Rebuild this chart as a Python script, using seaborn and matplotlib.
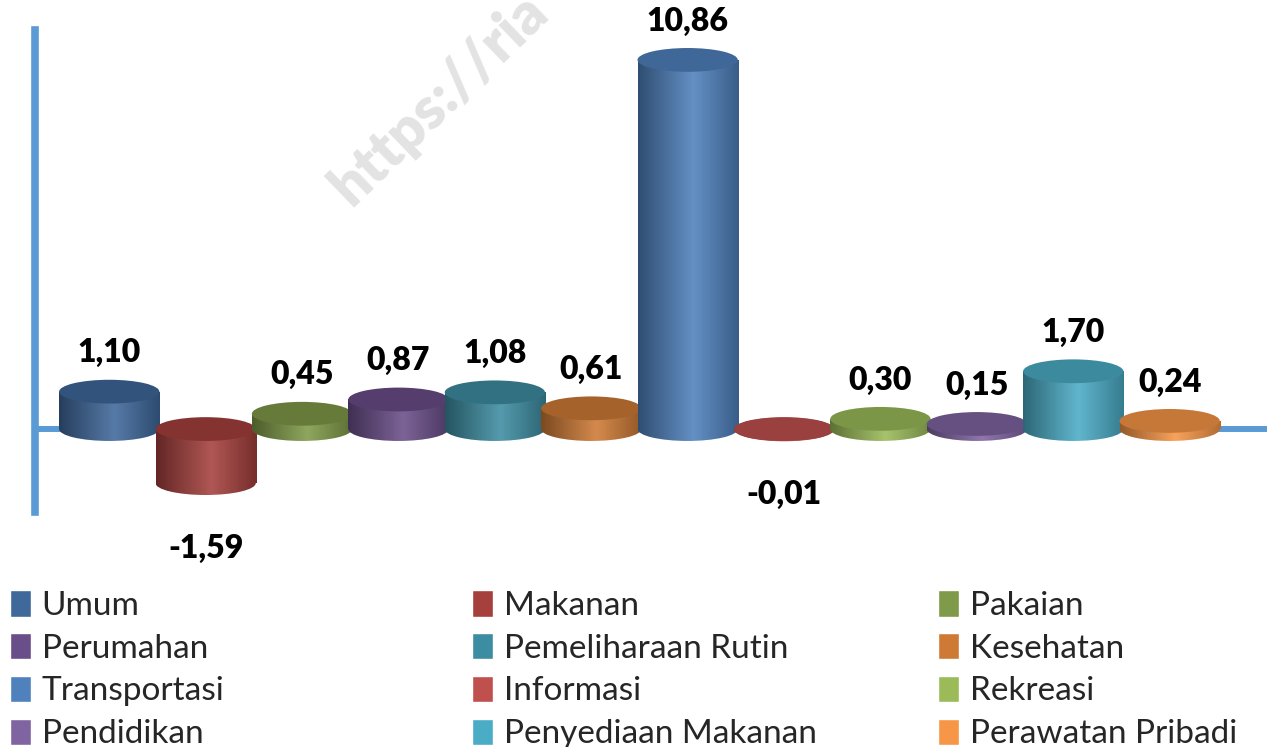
import numpy as np
import matplotlib
matplotlib.use('Agg')
import matplotlib.pyplot as plt
import matplotlib.colors as mcolors
from matplotlib.patches import Ellipse, Patch
import seaborn as sns

# Data
categories = ['Umum', 'Makanan', 'Pakaian', 'Perumahan', 'Pemeliharaan Rutin', 'Kesehatan',
              'Transportasi', 'Informasi', 'Rekreasi', 'Pendidikan', 'Penyediaan Makanan',
              'Perawatan Pribadi']
values = [1.10, -1.59, 0.45, 0.87, 1.08, 0.61, 10.86, -0.01, 0.30, 0.15, 1.70, 0.24]
colors = ['#3F689B', '#A5403D', '#7F9A48', '#6A4E89', '#3D8DA2', '#CE7A35',
          '#4F81BD', '#C0504D', '#9BBB59', '#8064A2', '#4BACC6', '#F79646']

sns.set_style('white')
plt.rcParams['font.family'] = ['Lato', 'DejaVu Sans']

W, H = 1267, 747
fig = plt.figure(figsize=(W / 100, H / 100), dpi=100)
ax = fig.add_axes([35 / W, (H - 512) / H, 1 - 35 / W, (512 - 30) / H])

sns.barplot(x=categories, y=values, hue=categories, palette=colors, legend=False,
            width=1.04, ax=ax, zorder=2)


def shade(c, f):
    return tuple(np.clip(np.array(mcolors.to_rgb(c)) * f, 0, 1))


def tint(c, f):
    rgb = np.array(mcolors.to_rgb(c))
    return tuple(rgb + (1 - rgb) * f)


ell_h = 0.7  # cap height in data units

for i, (cont, val, col) in enumerate(zip(ax.containers, values, colors)):
    bar = cont.patches[0]
    x0, w = bar.get_x(), bar.get_width()
    xc = x0 + w / 2
    top, bot = max(0, val), min(0, val)
    z = 2 + i * 0.01
    bar.set_facecolor('none')
    bar.set_edgecolor('none')

    cmap = mcolors.LinearSegmentedColormap.from_list(
        'cyl', [(0, shade(col, 0.6)), (0.55, tint(col, 0.12)), (1, shade(col, 0.72))])
    img = cmap(np.linspace(0, 1, 256))[None, :, :]

    # body
    im = ax.imshow(img, extent=[x0, x0 + w, bot - ell_h, top + ell_h], aspect='auto',
                   interpolation='bilinear', zorder=z)
    im.set_clip_path(bar)
    # bottom cap
    e_bot = Ellipse((xc, bot), w, ell_h, facecolor='none', edgecolor='none')
    ax.add_patch(e_bot)
    im2 = ax.imshow(img, extent=[x0, x0 + w, bot - ell_h, top + ell_h], aspect='auto',
                    interpolation='bilinear', zorder=z)
    im2.set_clip_path(e_bot)
    # top cap
    ax.add_patch(Ellipse((xc, top), w, ell_h, facecolor=shade(col, 0.8),
                         edgecolor='none', zorder=z + 0.005))

    lbl = f'{val:.2f}'.replace('.', ',')
    if val >= 0:
        ax.annotate(lbl, (xc, val), xytext=(0, 28), textcoords='offset points',
                    ha='center', va='center', fontsize=23, fontweight='heavy', color='black')
    else:
        ax.annotate(lbl, (xc, val), xytext=(0, -47), textcoords='offset points',
                    ha='center', va='center', fontsize=23, fontweight='heavy', color='black',
                    annotation_clip=False)

ax.axhline(0, color='#5B9BD5', lw=4.3, zorder=1)
ax.set_xlim(-0.77, 12.01)
ax.set_ylim(-2.44, 11.74)
ax.set_aspect('auto')
ax.set_xticks([])
ax.set_yticks([])
ax.set_xlabel('')
ax.set_ylabel('')
for s in ['top', 'right', 'bottom']:
    ax.spines[s].set_visible(False)
ax.spines['left'].set_color('#5B9BD5')
ax.spines['left'].set_linewidth(5.5)

# watermark
fig.text(352 / W, 1 - 208 / H, 'https://ria', rotation=44, rotation_mode='anchor',
         ha='left', va='baseline', fontsize=42, fontweight='heavy', color='#E3E3E3', zorder=0)

# legend, laid out row-wise in three columns
col_x = [10, 472, 938]
for k, x in enumerate(col_x):
    idxs = list(range(k, len(categories), 3))
    fig.legend(handles=[Patch(facecolor=colors[j]) for j in idxs],
               labels=[categories[j] for j in idxs],
               loc='upper left', bbox_to_anchor=(x / W, 1 - 590 / H), frameon=False,
               fontsize=24, handlelength=0.62, handleheight=0.85, handletextpad=0.33,
               labelspacing=0.36, borderpad=0, borderaxespad=0)

fig.savefig('out.png', dpi=100)
